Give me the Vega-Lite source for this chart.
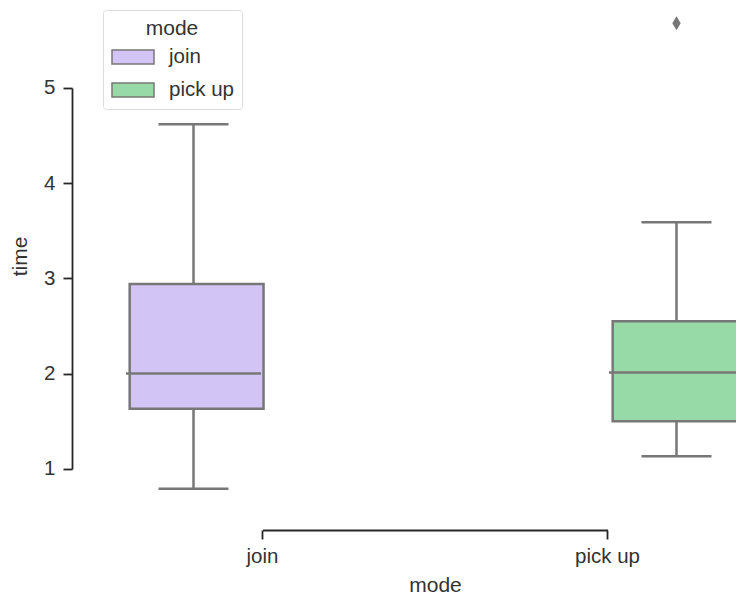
{
  "$schema": "https://vega.github.io/schema/vega-lite/v6.json",
  "width": 646,
  "height": 512,
  "autosize": {"type": "none"},
  "padding": {"left": 90, "top": 0, "right": 0, "bottom": 85},
  "background": "white",
  "config": {
    "view": {"stroke": null},
    "font": "Liberation Sans",
    "axis": {
      "grid": false,
      "domainColor": "#262626",
      "domainWidth": 1.8,
      "tickColor": "#262626",
      "tickWidth": 1.8,
      "tickSize": 9,
      "labelColor": "#333333",
      "titleColor": "#333333",
      "labelFontSize": 20.5,
      "titleFontSize": 21,
      "titleFontWeight": "normal",
      "offset": 18
    },
    "legend": {
      "titleFontSize": 21,
      "titleFontWeight": "normal",
      "titleColor": "#333333",
      "labelFontSize": 20.5,
      "labelColor": "#333333"
    }
  },
  "datasets": {
    "stats": [
      {"mode": "join", "lower": 0.79, "q1": 1.63, "median": 2.0, "q3": 2.94, "upper": 4.62},
      {"mode": "pick up", "lower": 1.13, "q1": 1.5, "median": 2.01, "q3": 2.55, "upper": 3.59}
    ],
    "outliers": [
      {"mode": "pick up", "time": 5.68}
    ]
  },
  "encoding": {
    "x": {
      "field": "mode",
      "type": "nominal",
      "sort": ["join", "pick up"],
      "scale": {"range": [0, 690], "paddingInner": 0, "paddingOuter": 0},
      "axis": {
        "title": "mode",
        "labelAngle": 0,
        "labelPadding": 7,
        "titlePadding": 8,
        "domainDash": [0, 172.5, 345, 1000]
      }
    },
    "xOffset": {
      "field": "mode",
      "type": "nominal",
      "sort": ["join", "pick up"],
      "scale": {"paddingInner": 0, "paddingOuter": 0.25}
    }
  },
  "layer": [
    {
      "data": {"name": "stats"},
      "mark": {"type": "rule", "color": "#777777", "strokeWidth": 2.5},
      "encoding": {
        "y": {
          "field": "lower",
          "type": "quantitative",
          "scale": {"domain": [0.5455, 5.9245], "nice": false, "zero": false},
          "axis": {
            "title": "time",
            "values": [1, 2, 3, 4, 5],
            "format": "d",
            "labelPadding": 8,
            "titlePadding": 13,
            "domainDash": [0, 43, 381, 1000]
          }
        },
        "y2": {"field": "q1"}
      }
    },
    {
      "data": {"name": "stats"},
      "mark": {"type": "rule", "color": "#777777", "strokeWidth": 2.5},
      "encoding": {
        "y": {"field": "q3", "type": "quantitative"},
        "y2": {"field": "upper"}
      }
    },
    {
      "data": {"name": "stats"},
      "mark": {"type": "bar", "stroke": "#777777", "strokeWidth": 2.5, "width": {"band": 0.97}},
      "encoding": {
        "y": {"field": "q1", "type": "quantitative"},
        "y2": {"field": "q3"},
        "fill": {
          "field": "mode",
          "type": "nominal",
          "scale": {"domain": ["join", "pick up"], "range": ["#d2c5f6", "#98daa7"]},
          "legend": {
            "title": "mode",
            "orient": "none",
            "legendX": 13,
            "legendY": 10,
            "titleAnchor": "middle",
            "padding": 8,
            "strokeColor": "#dddddd",
            "fillColor": "white",
            "cornerRadius": 3,
            "symbolType": "M-1.5,-0.5H1.5V0.5H-1.5Z",
            "symbolSize": 784,
            "symbolOffset": 7,
            "symbolStrokeColor": "#777777",
            "symbolStrokeWidth": 1.5,
            "symbolOpacity": 1,
            "labelOffset": 21,
            "rowPadding": 7,
            "titlePadding": 3
          }
        }
      }
    },
    {
      "data": {"name": "stats"},
      "mark": {"type": "tick", "color": "#777777", "thickness": 2.5, "size": 135, "opacity": 1},
      "encoding": {
        "y": {"field": "median", "type": "quantitative"}
      }
    },
    {
      "data": {"name": "stats"},
      "mark": {"type": "tick", "color": "#777777", "thickness": 2.5, "size": 70, "opacity": 1},
      "encoding": {
        "y": {"field": "lower", "type": "quantitative"}
      }
    },
    {
      "data": {"name": "stats"},
      "mark": {"type": "tick", "color": "#777777", "thickness": 2.5, "size": 70, "opacity": 1},
      "encoding": {
        "y": {"field": "upper", "type": "quantitative"}
      }
    },
    {
      "data": {"name": "outliers"},
      "mark": {"type": "point", "filled": true, "color": "#777777", "opacity": 1, "shape": "M0,-1L0.6,0L0,1L-0.6,0Z", "size": 196},
      "encoding": {
        "y": {"field": "time", "type": "quantitative"}
      }
    }
  ]
}
